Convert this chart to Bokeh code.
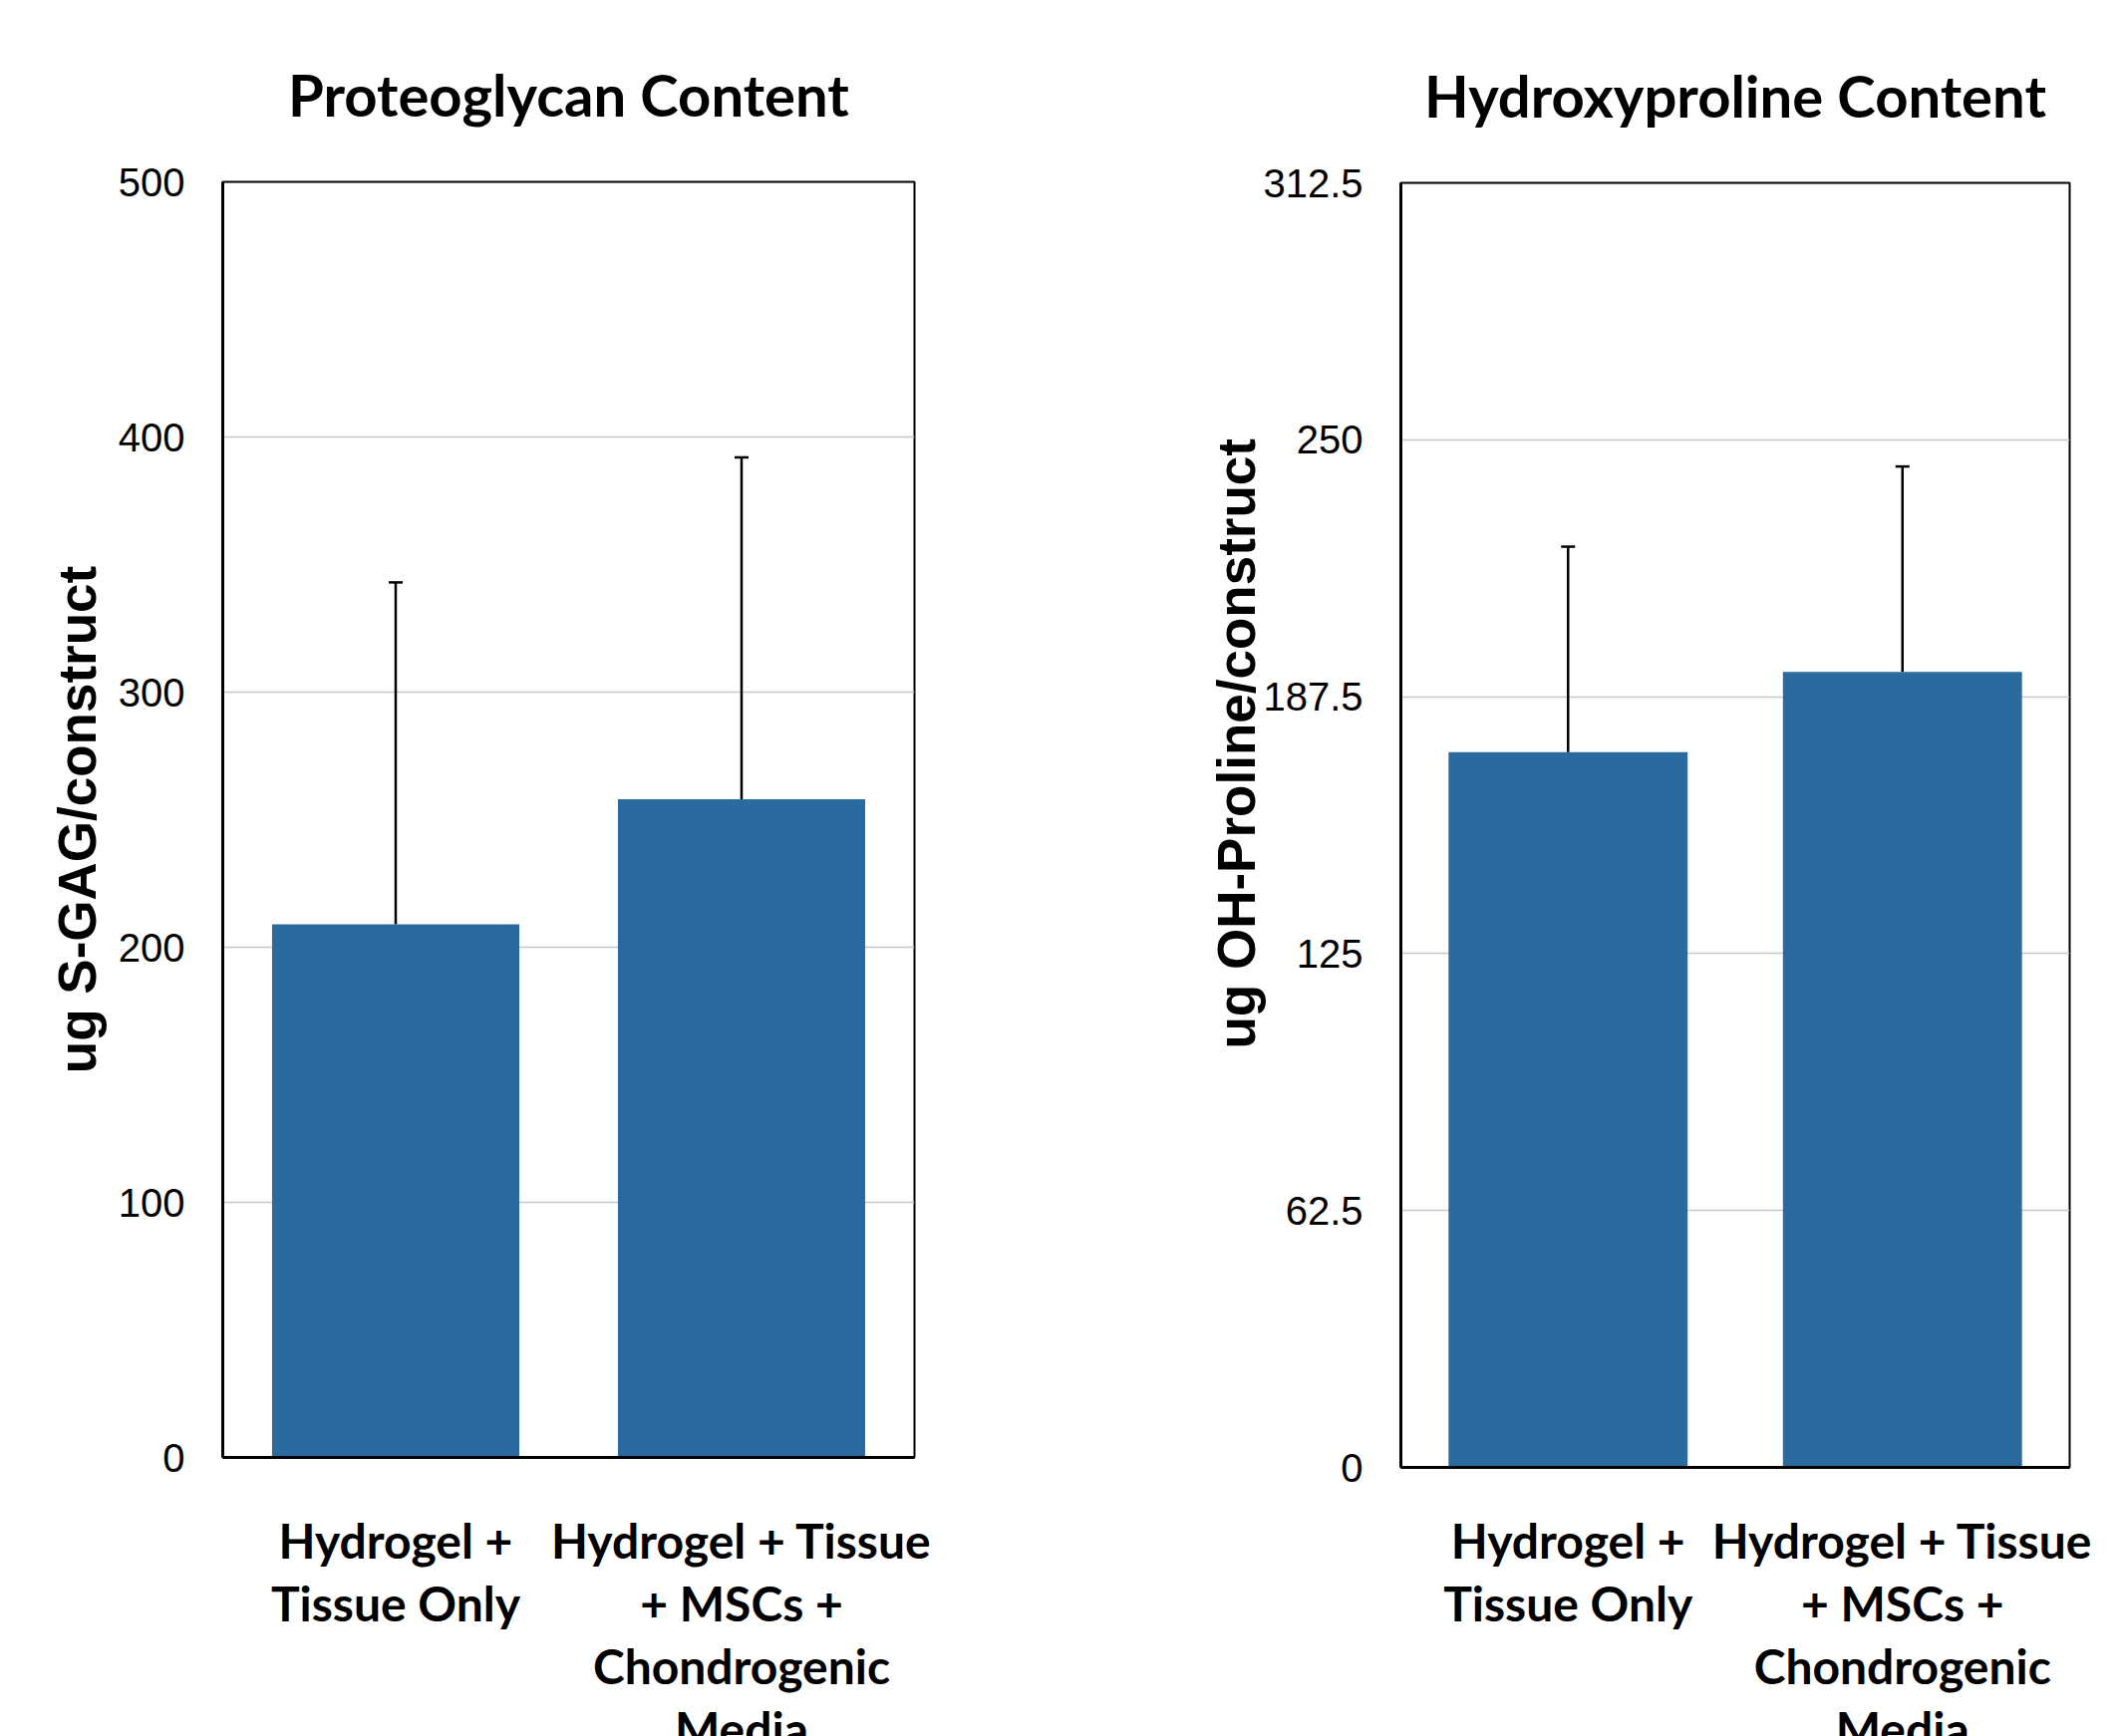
from bokeh.plotting import figure
from bokeh.layouts import row, column
from bokeh.models import (ColumnDataSource, FactorRange, Range1d, FixedTicker,
                          Whisker, TeeHead, Title)
from bokeh.embed import file_html
from bokeh.resources import INLINE

# ---- data ----
categories = ["Hydrogel +\nTissue Only", "Hydrogel + Tissue\n+ MSCs +\nChondrogenic\nMedia"]

pg_title = "Proteoglycan Content"
pg_ylabel = "ug S-GAG/construct"
pg_values = [209, 258]
pg_errors = [134, 134]
pg_ticks = [0, 100, 200, 300, 400, 500]
pg_tick_labels = ["0", "100", "200", "300", "400", "500"]

hp_title = "Hydroxyproline Content"
hp_ylabel = "ug OH-Proline/construct"
hp_values = [174, 193.5]
hp_errors = [50, 50]
hp_ticks = [0, 62.5, 125, 187.5, 250, 312.5]
hp_tick_labels = ["0", "62.5", "125", "187.5", "250", "312.5"]

BAR = "#2B6A9E"
TICK_FONT = "Liberation Sans"
CAT_FONT = "Lato"
H = 1830


def make_chart(title, ylabel, values, errors, ticks, tick_labels, width,
               b_left, b_right, b_top, b_bottom, cat_standoff, label_offset=None):
    src = ColumnDataSource(dict(
        x=categories,
        top=values,
        upper=[v + e for v, e in zip(values, errors)],
        lower=values,
    ))
    p = figure(x_range=FactorRange(factors=categories, range_padding=0),
               y_range=Range1d(ticks[0], ticks[-1]),
               width=width, height=H,
               output_backend="svg", toolbar_location=None,
               min_border_left=b_left, min_border_right=b_right,
               min_border_top=b_top, min_border_bottom=b_bottom)
    p.title.text = title
    p.title.align = "center"
    p.title.text_font = CAT_FONT
    p.title.text_font_style = "bold"
    p.title.text_font_size = "58px"
    p.title.text_color = "black"
    p.title.standoff = 108

    p.vbar(x="x", top="top", width=0.715, source=src,
           fill_color=BAR, line_color=None)
    w = Whisker(base="x", upper="upper", lower="lower", source=src,
                line_color="black", line_width=2.5,
                upper_head=TeeHead(size=14, line_color="black", line_width=2.5),
                lower_head=None)
    p.add_layout(w)

    # y axis
    p.yaxis.ticker = FixedTicker(ticks=ticks)
    p.yaxis.major_label_overrides = {t: l for t, l in zip(ticks, tick_labels)}
    p.yaxis.major_label_text_font = TICK_FONT
    p.yaxis.major_label_text_font_size = "40px"
    p.yaxis.major_label_text_color = "black"
    p.yaxis.major_tick_out = 0
    p.yaxis.major_tick_in = 0
    p.yaxis.minor_tick_out = 0
    p.yaxis.minor_tick_in = 0
    p.yaxis.major_label_standoff = 38
    p.yaxis.axis_line_width = 3
    p.yaxis.axis_line_color = "black"
    if label_offset is None:
        p.yaxis.axis_label = ylabel
        p.yaxis.axis_label_text_font = TICK_FONT
        p.yaxis.axis_label_text_font_style = "bold"
        p.yaxis.axis_label_text_font_size = "53px"
        p.yaxis.axis_label_text_color = "black"
        p.yaxis.axis_label_standoff = 9
    else:
        p.add_layout(Title(text=ylabel, align="left", offset=label_offset,
                           text_font=TICK_FONT, text_font_style="bold",
                           text_font_size="53px", text_color="black",
                           standoff=-10), "left")

    # x axis
    p.xaxis.major_label_text_font = CAT_FONT
    p.xaxis.major_label_text_font_style = "bold"
    p.xaxis.major_label_text_font_size = "48px"
    p.xaxis.major_label_text_color = "black"
    p.xaxis.major_label_text_line_height = 1.11
    p.xaxis.major_tick_out = 0
    p.xaxis.major_tick_in = 0
    p.xaxis.major_label_standoff = cat_standoff
    p.xaxis.axis_line_width = 3
    p.xaxis.axis_line_color = "black"

    # grid / frame
    p.xgrid.visible = False
    p.ygrid.ticker = FixedTicker(ticks=ticks)
    p.ygrid.grid_line_color = "#c8c8c8"
    p.ygrid.grid_line_width = 1.5
    p.outline_line_color = "black"
    p.outline_line_width = 2
    p.outline_line_alpha = 1
    p.background_fill_color = "white"
    p.border_fill_color = "white"
    return p


p1 = make_chart(pg_title, pg_ylabel, pg_values, pg_errors, pg_ticks, pg_tick_labels,
                width=1050, b_left=223, b_right=133, b_top=182, b_bottom=H - 1462,
                cat_standoff=54)

p2 = make_chart(hp_title, hp_ylabel, hp_values, hp_errors, hp_ticks, hp_tick_labels,
                width=1078, b_left=355, b_right=52, b_top=183, b_bottom=H - 1472,
                cat_standoff=44, label_offset=420)

layout = row(column(p1), column(p2))
open("out.html", "w").write(file_html(layout, INLINE))
